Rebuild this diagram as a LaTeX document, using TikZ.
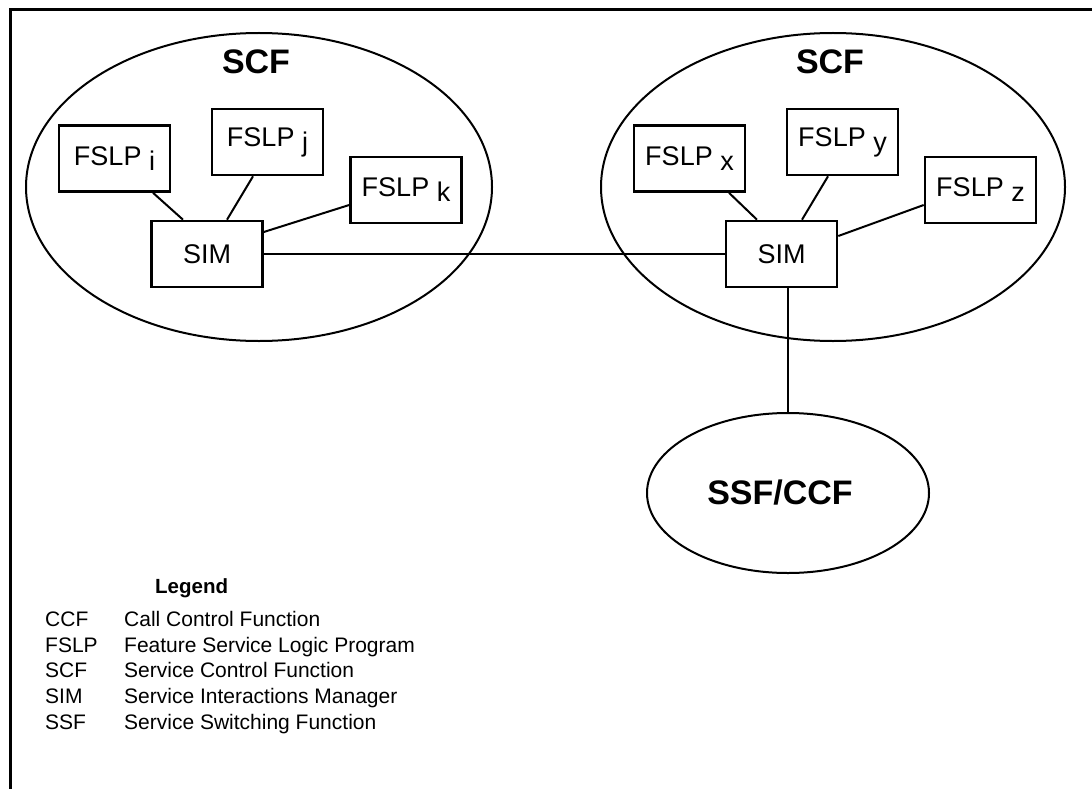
\documentclass[tikz,border=0pt]{standalone}
\usepackage{fontspec}
\setmainfont{Liberation Sans}
\usetikzlibrary{shapes.geometric,calc}
\tikzset{
  frameline/.style={line width=3pt},
  func/.style={draw, ellipse, line width=2pt, inner sep=0pt},
  funclabel/.style={font=\fontsize{34}{40}\selectfont\bfseries, inner sep=0pt},
  progbox/.style={draw, rectangle, line width=2.6pt, minimum width=111pt, minimum height=66pt,
    inner sep=0pt, font=\fontsize{27}{32}\selectfont},
  link/.style={line width=2pt},
  legtext/.style={anchor=base west, inner sep=0pt, font=\fontsize{21}{25}\selectfont},
}
\newcommand{\sub}[1]{\ \raisebox{-5pt}{#1}}
\begin{document}
\begin{tikzpicture}[x=1pt, y=-1pt]
  \useasboundingbox (0,0) rectangle (1092,789);
  % frame
  \draw[frameline] (10,789) -- (10,9.5) -- (1092,9.5);

  % left SCF
  \node[func, minimum width=466pt, minimum height=308pt] (scfL) at (259,187) {};
  \node[funclabel] (scfLlab) at (256,62) {SCF};
  \node[progbox] (fi) at (114.5,158.5) {FSLP\sub{i}};
  \node[progbox] (fj) at (267.5,142) {FSLP\sub{j}};
  \node[progbox] (fk) at (406,190) {FSLP\sub{k}};
  \node[progbox] (simL) at (207,254) {SIM};

  % right SCF
  \node[func, minimum width=464pt, minimum height=308pt] (scfR) at (833,187) {};
  \node[funclabel] (scfRlab) at (830,62) {SCF};
  \node[progbox] (fx) at (689.5,158.5) {FSLP\sub{x}};
  \node[progbox] (fy) at (842.5,142) {FSLP\sub{y}};
  \node[progbox] (fz) at (980.5,190) {FSLP\sub{z}};
  \node[progbox] (simR) at (781.5,254) {SIM};

  % SSF/CCF
  \node[func, minimum width=282pt, minimum height=160pt] (ssf) at (788,493) {};
  \node[funclabel] (ssflab) at (780,493) {SSF/CCF};

  % connections inside left SCF
  \draw[link] ($(fi.south)+(38.5,0)$) -- ($(simL.north)+(-24,0)$);
  \draw[link] ($(fj.south)+(-14.5,0)$) -- ($(simL.north)+(20,0)$);
  \draw[link] ($(fk.west)+(0,15)$) -- ($(simL.east)+(0,-22)$);
  % connections inside right SCF
  \draw[link] ($(fx.south)+(39.5,0)$) -- ($(simR.north)+(-24.5,0)$);
  \draw[link] ($(fy.south)+(-14.5,0)$) -- ($(simR.north)+(20.5,0)$);
  \draw[link] ($(fz.west)+(0,15)$) -- ($(simR.east)+(0,-18)$);
  % SIM to SIM and SIM to SSF/CCF
  \draw[link] (simL.east) -- (simR.west);
  \draw[link] (simR.south -| ssf.north) -- (ssf.north);

  % legend
  \node[anchor=base west, inner sep=0pt, font=\fontsize{20.5}{24}\selectfont\bfseries] (leg) at (155,593) {Legend};
  \node[legtext] (a1) at (45,626) {CCF};
  \node[legtext] (d1) at (124,626) {Call Control Function};
  \node[legtext] (a2) at (45,652) {FSLP};
  \node[legtext] (d2) at (124,652) {Feature Service Logic Program};
  \node[legtext] (a3) at (45,677.5) {SCF};
  \node[legtext] (d3) at (124,677.5) {Service Control Function};
  \node[legtext] (a4) at (45,703) {SIM};
  \node[legtext] (d4) at (124,703) {Service Interactions Manager};
  \node[legtext] (a5) at (45,729) {SSF};
  \node[legtext] (d5) at (124,729) {Service Switching Function};
\end{tikzpicture}
\end{document}
